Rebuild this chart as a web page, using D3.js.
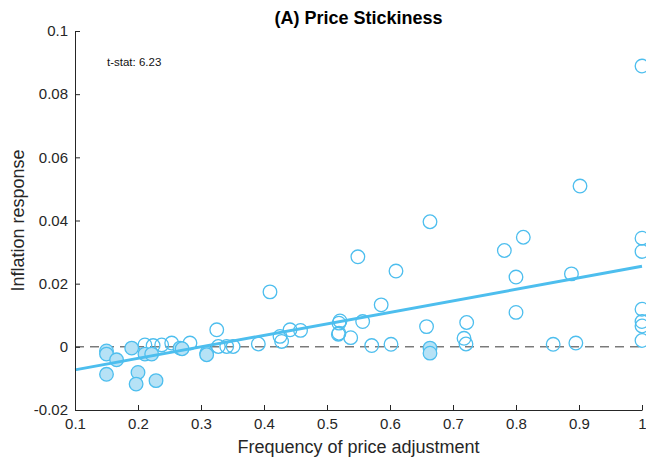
<!DOCTYPE html>
<html>
<head>
<meta charset="utf-8">
<script src="https://cdn.jsdelivr.net/npm/d3@7/dist/d3.min.js"></script>
<style>
  html, body { margin: 0; padding: 0; background: #fff; }
  svg { display: block; font-family: "Liberation Sans", Arial, Helvetica, sans-serif; }
</style>
</head>
<body>
<svg id="chart" width="646" height="458"></svg>
<script>
// Frequency of price adjustment per sector
const frequency = [
  1.0, 0.9016, 0.6635, 0.549, 0.7815, 0.8116, 0.8, 0.6095, 0.888,
  1.0, 1.0, 1.0, 1.0, 1.0, 1.0,
  0.4095, 0.586, 0.8, 0.5206, 0.5566, 0.7217, 0.658, 0.518, 0.5376,
  0.7175, 0.7206, 0.571, 0.6016, 0.859, 0.895,
  0.325, 0.4413, 0.458, 0.4254, 0.428, 0.391, 0.519, 0.519,
  0.2535, 0.2825, 0.3275, 0.3408, 0.351, 0.211, 0.224, 0.2376,
  0.15, 0.15, 0.166, 0.15, 0.19, 0.2, 0.197, 0.2286, 0.211, 0.2217,
  0.2667, 0.27, 0.309, 0.309, 0.6635, 0.6635
];
// Inflation response per sector
const response = [
  0.0889, 0.0509, 0.0396, 0.0285, 0.0305, 0.0347, 0.0221, 0.024, 0.0231,
  0.0344, 0.0302, 0.0119, 0.008, 0.0066, 0.002,
  0.0174, 0.0133, 0.0109, 0.0082, 0.008, 0.0077, 0.0064, 0.004, 0.0029,
  0.0027, 0.0009, 0.0004, 0.0008, 0.0008, 0.0012,
  0.0054, 0.0054, 0.0052, 0.0033, 0.0017, 0.0009, 0.0075, 0.0043,
  0.0012, 0.0012, 0.0001, 0.0001, 0.0001, 0.0006, 0.0004, 0.0006,
  -0.0013, -0.0023, -0.0041, -0.0087, -0.0004, -0.0081, -0.0118, -0.0107, -0.0023, -0.0023,
  -0.0004, -0.0006, -0.002, -0.0025, -0.0004, -0.002
];
// Fitted regression line endpoints
const fitX = [0.1, 1.0];
const fitY = [-0.0073, 0.0255];
const tStat = "6.23";

const xTicks = [0.1, 0.2, 0.3, 0.4, 0.5, 0.6, 0.7, 0.8, 0.9, 1];
const xTickLabels = ["0.1", "0.2", "0.3", "0.4", "0.5", "0.6", "0.7", "0.8", "0.9", "1"];
const yTicks = [-0.02, 0, 0.02, 0.04, 0.06, 0.08, 0.1];
const yTickLabels = ["-0.02", "0", "0.02", "0.04", "0.06", "0.08", "0.1"];

const svg = d3.select("#chart");
const margin = { left: 75, right: 4, top: 31, bottom: 48 };
const W = 646, H = 458;
const x = d3.scaleLinear().domain([0.1, 1]).range([margin.left, W - margin.right]);
const y = d3.scaleLinear().domain([-0.02, 0.1]).range([H - margin.bottom, margin.top]);

const axisColor = "#262626";
const blue = "#4DBEEE";
const lightBlue = "#b6e2f6";

// zero reference line
svg.append("line")
  .attr("x1", x(0.1)).attr("x2", x(1))
  .attr("y1", y(0)).attr("y2", y(0))
  .attr("stroke", "#3a3a3a").attr("stroke-width", 1)
  .attr("stroke-dasharray", "9,6");

// sector points
const pts = d3.range(frequency.length).map(i => ({ f: frequency[i], r: response[i] }));
svg.append("g").selectAll("circle").data(pts).join("circle")
  .attr("cx", d => x(d.f))
  .attr("cy", d => y(d.r))
  .attr("r", 6.8)
  .attr("fill", d => d.r < 0 ? lightBlue : "none")
  .attr("stroke", blue)
  .attr("stroke-width", 1.3);

// regression line
svg.append("line")
  .attr("x1", x(fitX[0])).attr("y1", y(fitY[0]))
  .attr("x2", x(fitX[1])).attr("y2", y(fitY[1]))
  .attr("stroke", blue).attr("stroke-width", 3);

// axes
const xAxis = d3.axisBottom(x).tickValues(xTicks).tickSizeInner(-5).tickSizeOuter(0)
  .tickFormat((d, i) => xTickLabels[i]).tickPadding(8);
const gx = svg.append("g").attr("transform", `translate(0,${y(-0.02)})`).call(xAxis);
const yAxis = d3.axisLeft(y).tickValues(yTicks).tickSizeInner(-5).tickSizeOuter(0)
  .tickFormat((d, i) => yTickLabels[i]).tickPadding(7);
const gy = svg.append("g").attr("transform", `translate(${x(0.1)},0)`).call(yAxis);

[gx, gy].forEach(g => {
  g.select(".domain").attr("stroke", axisColor).attr("stroke-width", 1);
  g.selectAll(".tick line").attr("stroke", axisColor).attr("stroke-width", 1);
  g.selectAll(".tick text").attr("fill", axisColor)
    .style("font-size", "15px").style("font-family", "'Liberation Sans', Arial, sans-serif");
});

// title
svg.append("text")
  .attr("x", (x(0.1) + x(1)) / 2).attr("y", 24)
  .attr("text-anchor", "middle")
  .style("font-size", "18px").style("font-weight", "bold")
  .attr("fill", "#000")
  .text("(A) Price Stickiness");

// t-stat annotation
svg.append("text")
  .attr("x", 107).attr("y", 66)
  .style("font-size", "11.5px")
  .attr("fill", "#111")
  .text("t-stat: " + tStat);

// axis labels
svg.append("text")
  .attr("x", (x(0.1) + x(1)) / 2).attr("y", 453)
  .attr("text-anchor", "middle")
  .style("font-size", "18px")
  .attr("fill", axisColor)
  .text("Frequency of price adjustment");

svg.append("text")
  .attr("transform", `translate(24,${(y(0.1) + y(-0.02)) / 2}) rotate(-90)`)
  .attr("text-anchor", "middle")
  .style("font-size", "18px")
  .attr("fill", axisColor)
  .text("Inflation response");
</script>
</body>
</html>
